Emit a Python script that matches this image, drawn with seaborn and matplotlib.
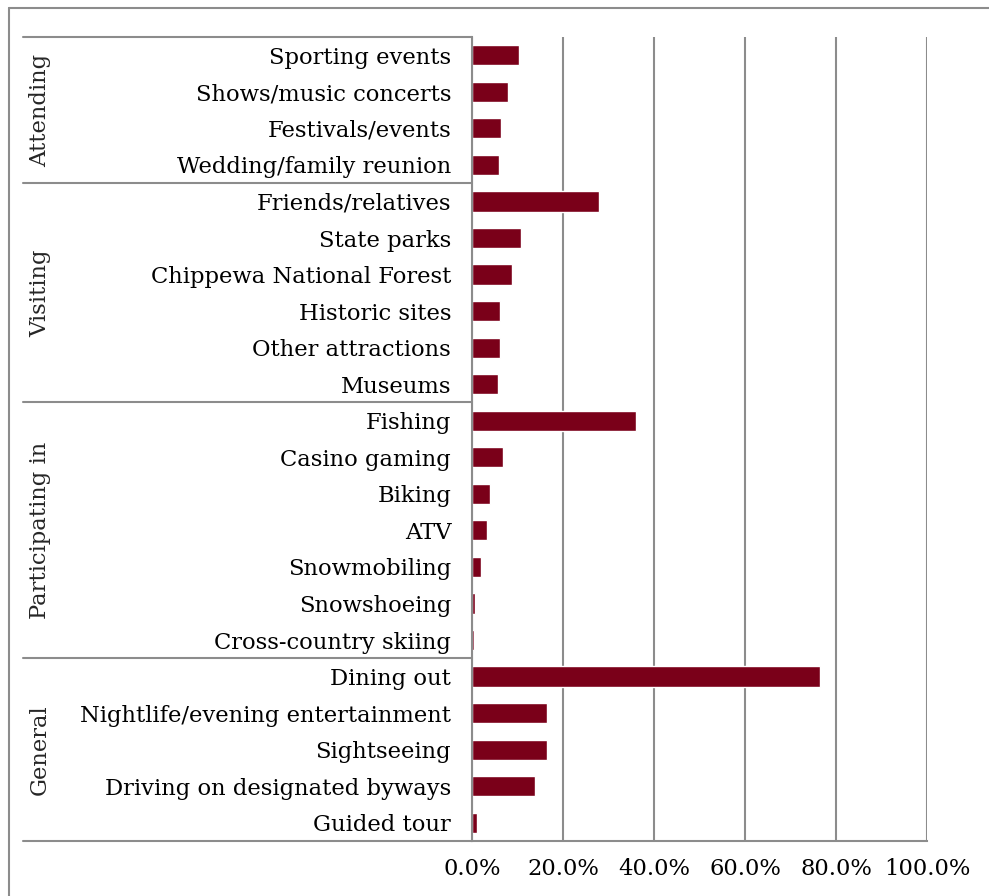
import seaborn as sns
import matplotlib.pyplot as plt
import matplotlib.transforms as mtransforms
import pandas as pd
from matplotlib.ticker import FuncFormatter

# data (share of respondents, %)
groups = ["Attending", "Visiting", "Participating in", "General"]
activities = [
    ["Sporting events", "Shows/music concerts", "Festivals/events", "Wedding/family reunion"],
    ["Friends/relatives", "State parks", "Chippewa National Forest", "Historic sites",
     "Other attractions", "Museums"],
    ["Fishing", "Casino gaming", "Biking", "ATV", "Snowmobiling", "Snowshoeing",
     "Cross-country skiing"],
    ["Dining out", "Nightlife/evening entertainment", "Sightseeing",
     "Driving on designated byways", "Guided tour"],
]
values = [
    [10.3, 8.0, 6.3, 6.0],
    [27.9, 10.8, 8.9, 6.2, 6.2, 5.7],
    [36.0, 6.9, 3.9, 3.2, 2.0, 0.6, 0.5],
    [76.5, 16.5, 16.5, 13.9, 1.2],
]
x_ticks = [0, 20, 40, 60, 80, 100]

rows = []
for g, acts, vals in zip(groups, activities, values):
    for a, v in zip(acts, vals):
        rows.append({"group": g, "activity": a, "pct": v})
df = pd.DataFrame(rows)

sns.set_style("white")
plt.rcParams["font.family"] = ["DejaVu Serif"]

fig = plt.figure(figsize=(9.89, 8.96), dpi=100)
W, H = 989, 896
ax = fig.add_axes([472 / W, 1 - 841 / H, 455 / W, (841 - 37) / H])

sns.barplot(data=df, y="activity", x="pct", color="#7a0019", width=0.55,
            saturation=1, ax=ax, orient="h")

grey = "#8c8c8c"
ax.set_xlim(0, 100)
ax.set_ylim(len(df) - 0.5, -0.5)
ax.set_xticks(x_ticks)
ax.xaxis.set_major_formatter(FuncFormatter(lambda v, p: f"{v:.1f}%"))
ax.grid(axis="x", color=grey, linewidth=1.5)
ax.set_axisbelow(True)
ax.set_xlabel("")
ax.set_ylabel("")
ax.tick_params(axis="both", length=0, labelsize=16.3, colors="black")
ax.tick_params(axis="x", pad=12)
ax.tick_params(axis="y", pad=15)
for s in ["top", "right"]:
    ax.spines[s].set_visible(False)
for s in ["left", "bottom"]:
    ax.spines[s].set_color(grey)
    ax.spines[s].set_linewidth(1.5)

# group separators and labels on the left
trans = mtransforms.blended_transform_factory(ax.transAxes, ax.transData)
x0 = (23 - 472) / 455
bounds = [-0.5]
n = 0
for acts in activities:
    n += len(acts)
    bounds.append(n - 0.5)
for b in bounds:
    ax.plot([x0, 0], [b, b], color=grey, linewidth=1.5, transform=trans, clip_on=False)
for g, lo, hi in zip(groups, bounds[:-1], bounds[1:]):
    ax.text((40 - 472) / 455, (lo + hi) / 2, g, rotation=90, ha="center", va="center",
            fontsize=16.3, transform=trans)

# outer chart border (top and left edges visible)
fig.add_artist(plt.Line2D([9 / W, 9 / W], [0, 1 - 8 / H], color=grey, linewidth=1.5))
fig.add_artist(plt.Line2D([9 / W, 1], [1 - 8 / H, 1 - 8 / H], color=grey, linewidth=1.5))

fig.savefig("out.png", dpi=100)
